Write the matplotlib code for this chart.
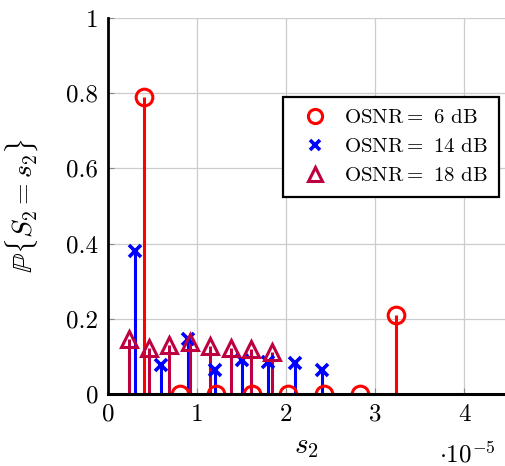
import matplotlib
matplotlib.use('Agg')
import matplotlib.pyplot as plt
from matplotlib.ticker import FuncFormatter

plt.rcParams['font.family'] = 'cmr10'
plt.rcParams['mathtext.fontset'] = 'cm'
plt.rcParams['axes.unicode_minus'] = False

# support points and probabilities for each OSNR
s2_6 = [0.405e-5, 0.81e-5, 1.215e-5, 1.62e-5, 2.025e-5, 2.43e-5, 2.835e-5, 3.24e-5]
p_6 = [0.79, 0, 0, 0, 0, 0, 0, 0.21]

s2_14 = [0.30e-5, 0.60e-5, 0.90e-5, 1.20e-5, 1.50e-5, 1.80e-5, 2.10e-5, 2.40e-5]
p_14 = [0.38, 0.077, 0.147, 0.064, 0.09, 0.085, 0.082, 0.064]

s2_18 = [0.23e-5, 0.46e-5, 0.69e-5, 0.92e-5, 1.15e-5, 1.38e-5, 1.61e-5, 1.84e-5]
p_18 = [0.145, 0.122, 0.13, 0.138, 0.128, 0.122, 0.118, 0.11]

labels = ['OSNR$=$ 6 dB', 'OSNR$=$ 14 dB', 'OSNR$=$ 18 dB']

fig = plt.figure(figsize=(5.05, 4.66), dpi=100)
ax = fig.add_axes([0.214, 0.155, 0.786, 0.806])

purple = '#BF0040'
ax.vlines(s2_6, 0, p_6, color='red', lw=2.2, zorder=3)
ax.plot(s2_6, p_6, 'o', ms=12, mfc='none', mec='red', mew=2.2, zorder=4, label=labels[0])
ax.vlines(s2_14, 0, p_14, color='blue', lw=2.2, zorder=3)
ax.plot(s2_14, p_14, 'x', ms=9, mec='blue', mew=2.6, zorder=4, label=labels[1])
ax.vlines(s2_18, 0, p_18, color=purple, lw=2.2, zorder=3)
ax.plot(s2_18, p_18, '^', ms=12, mfc='none', mec=purple, mew=2.2, zorder=4, label=labels[2])

ax.set_xlim(0, 4.46e-5)
ax.set_ylim(0, 1)
ax.set_xticks([0, 1e-5, 2e-5, 3e-5, 4e-5])
ax.set_yticks([0, 0.2, 0.4, 0.6, 0.8, 1])
ax.xaxis.set_major_formatter(FuncFormatter(lambda v, p: '%g' % round(v / 1e-5, 3)))
ax.yaxis.set_major_formatter(FuncFormatter(lambda v, p: '%g' % v))
ax.tick_params(direction='in', length=4, color='#888888', labelsize=18, pad=7)
ax.grid(True, color='#cccccc', lw=0.9)
ax.set_axisbelow(True)

for side in ['top', 'right']:
    ax.spines[side].set_visible(False)
ax.spines['left'].set_linewidth(2)
ax.spines['bottom'].set_linewidth(2.2)
ax.spines['bottom'].set_zorder(5)

ax.set_xlabel('$s_2$', fontsize=21, labelpad=6)
ax.set_ylabel(r'$\mathbb{P}\{S_2 = s_2\}$', fontsize=20, labelpad=18)
fig.text(0.925, 0.025, r'$\cdot 10^{-5}$', fontsize=18, ha='center', va='center')

leg = ax.legend(loc='upper right', bbox_to_anchor=(0.985, 0.79), fontsize=15,
                frameon=True, fancybox=False, edgecolor='black', framealpha=1,
                handlelength=2.0, handletextpad=0.35, borderpad=0.55,
                labelspacing=0.5, borderaxespad=0, markerscale=0.85)
leg.get_frame().set_linewidth(1.6)

fig.savefig('out.png', dpi=100)
